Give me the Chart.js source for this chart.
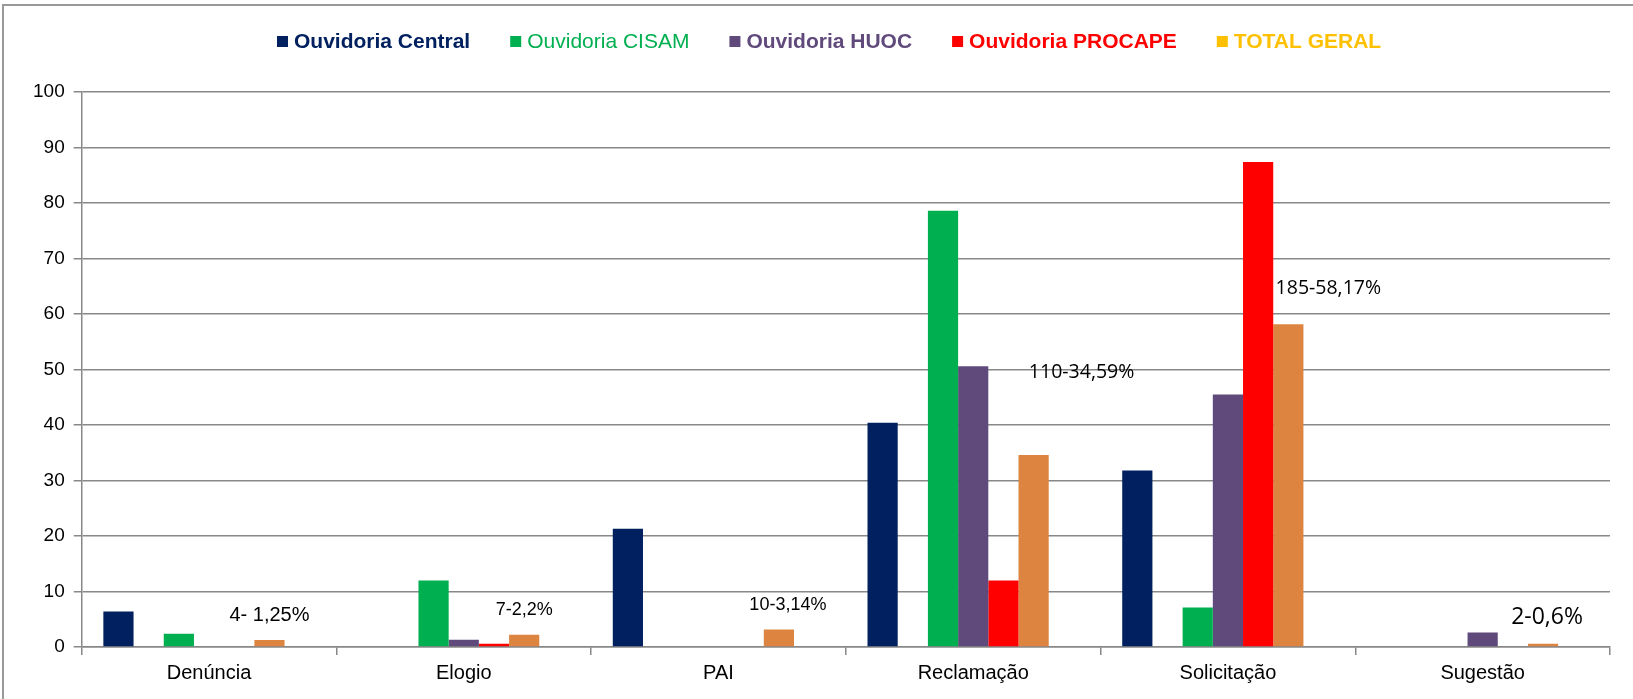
<!DOCTYPE html>
<html>
  <head>
    <meta charset="utf-8">
    <script src="https://cdn.jsdelivr.net/npm/chart.js@4"></script>
    <style>
      body { margin: 0; background: #fff; }
      #wrap { width: 1633px; height: 699px; }
    </style>
  </head>
  <body>
    <div id="wrap"><canvas id="canvas"></canvas></div>
    <script>
      const categories = ['Denúncia', 'Elogio', 'PAI', 'Reclamação', 'Solicitação', 'Sugestão'];

      const central = [6.4, null, 21.3, 40.4, 31.8, null];
      const cisam = [2.4, 12.0, null, 78.6, 7.1, null];
      const huoc = [null, 1.3, null, 50.6, 45.5, 2.6];
      const procape = [null, 0.6, null, 12.0, 87.4, null];
      const totalGeral = [1.25, 2.2, 3.14, 34.59, 58.17, 0.6];

      const totalLabels = ['4- 1,25%', '7-2,2%', '10-3,14%', '110-34,59%', '185-58,17%', '2-0,6%'];
      const totalLabelY = [5.6, 6.7, 7.5, 49.4, 64.6, 5.4];

      const yTicks = [0, 10, 20, 30, 40, 50, 60, 70, 80, 90, 100];

      // label styling (offset from the total bar, font)
      const labelStyle = [
        { dx: 0, font: '20px "Liberation Sans"' },
        { dx: 0, font: '18px "Liberation Sans"' },
        { dx: 9, font: '18px "Liberation Sans"' },
        { dx: 48, font: '19.5px "Open Sans"' },
        { dx: 40, font: '19.5px "Open Sans"' },
        { dx: 4, font: '23px "Open Sans"' },
      ];

      const legendItems = [
        { text: 'Ouvidoria Central', box: '#002060', color: '#002060', font: 'bold 21px "Liberation Sans"' },
        { text: 'Ouvidoria CISAM', box: '#00B050', color: '#00B050', font: '21px "Liberation Sans"' },
        { text: 'Ouvidoria HUOC', box: '#604A7B', color: '#604A7B', font: 'bold 21px "Liberation Sans"' },
        { text: 'Ouvidoria PROCAPE', box: '#FF0000', color: '#FF0000', font: 'bold 21px "Liberation Sans"' },
        { text: 'TOTAL GERAL', box: '#FFC000', color: '#FFC000', font: 'bold 21px "Liberation Sans"' },
      ];

      const empty = categories.map(() => null);

      const framePlugin = {
        id: 'frame',
        beforeDraw(chart) {
          const ctx = chart.ctx;
          ctx.save();
          ctx.strokeStyle = '#999';
          ctx.lineWidth = 2;
          ctx.beginPath();
          ctx.moveTo(3, 699);
          ctx.lineTo(3, 5);
          ctx.lineTo(1633, 5);
          ctx.stroke();
          ctx.restore();
        },
      };

      const legendPlugin = {
        id: 'customLegend',
        afterDraw(chart) {
          const ctx = chart.ctx;
          ctx.save();
          let x = 277;
          const y = 42;
          ctx.textBaseline = 'middle';
          ctx.textAlign = 'left';
          legendItems.forEach((it) => {
            ctx.fillStyle = it.box;
            ctx.fillRect(x, y - 6, 11, 11);
            x += 17;
            ctx.font = it.font;
            ctx.fillStyle = it.color;
            ctx.fillText(it.text, x, y);
            x += ctx.measureText(it.text).width + 40;
          });
          ctx.restore();
        },
      };

      const totalLabelPlugin = {
        id: 'totalLabels',
        afterDatasetsDraw(chart) {
          const ctx = chart.ctx;
          const meta = chart.getDatasetMeta(5);
          const yScale = chart.scales.y;
          ctx.save();
          ctx.fillStyle = '#000';
          ctx.textAlign = 'center';
          ctx.textBaseline = 'middle';
          meta.data.forEach((bar, i) => {
            ctx.font = labelStyle[i].font;
            ctx.fillText(totalLabels[i], bar.x + labelStyle[i].dx, yScale.getPixelForValue(totalLabelY[i]));
          });
          ctx.restore();
        },
      };

      new Chart(document.getElementById('canvas'), {
        type: 'bar',
        data: {
          labels: categories,
          datasets: [
            { label: 'Ouvidoria Central', data: central, backgroundColor: '#002060' },
            { label: '', data: empty },
            { label: 'Ouvidoria CISAM', data: cisam, backgroundColor: '#00B050' },
            { label: 'Ouvidoria HUOC', data: huoc, backgroundColor: '#604A7B' },
            { label: 'Ouvidoria PROCAPE', data: procape, backgroundColor: '#FF0000' },
            { label: 'TOTAL GERAL', data: totalGeral, backgroundColor: '#DD8540' },
            { label: '', data: empty },
          ],
        },
        options: {
          responsive: true,
          maintainAspectRatio: false,
          animation: false,
          categoryPercentage: 0.83,
          barPercentage: 1,
          layout: {
            padding: { left: 24, right: 23, top: 92, bottom: 8 },
          },
          plugins: {
            legend: { display: false },
            tooltip: { enabled: false },
          },
          scales: {
            x: {
              grid: {
                display: true,
                drawOnChartArea: false,
                drawTicks: true,
                tickLength: 8,
                color: '#888',
                lineWidth: 1.5,
              },
              border: { color: '#888', width: 1.5 },
              ticks: {
                color: '#000',
                padding: 6,
                font: { family: 'Liberation Sans', size: 20 },
              },
            },
            y: {
              min: 0,
              max: 100,
              afterBuildTicks(axis) {
                axis.ticks = yTicks.map((v) => ({ value: v }));
              },
              grid: {
                color: '#888',
                lineWidth: 1.5,
                tickLength: 8,
              },
              border: { color: '#888', width: 1.5 },
              ticks: {
                color: '#000',
                padding: 9,
                font: { family: 'Liberation Sans', size: 19 },
              },
            },
          },
        },
        plugins: [framePlugin, legendPlugin, totalLabelPlugin],
      });
    </script>
  </body>
</html>
